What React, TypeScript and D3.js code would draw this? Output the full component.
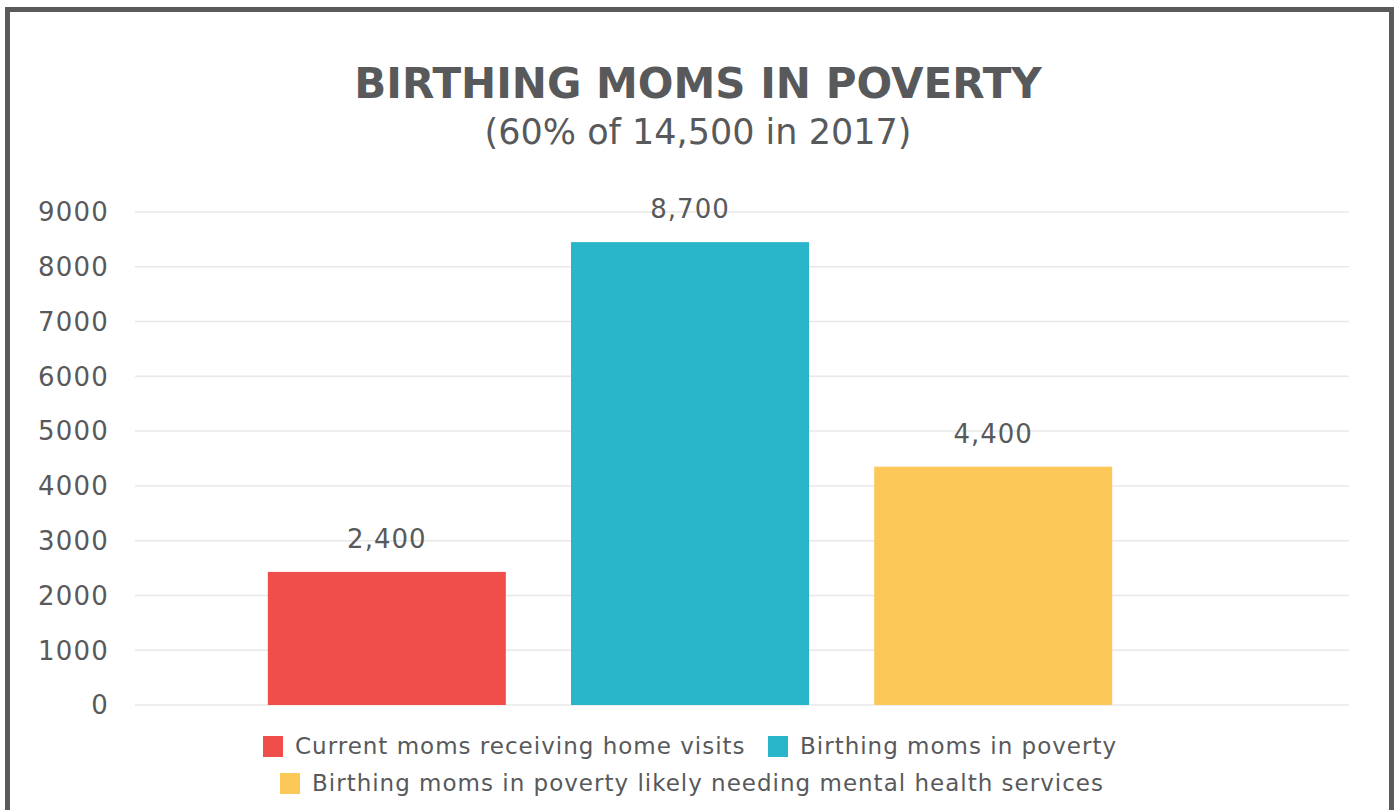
import * as d3 from "d3";
import { useEffect, useRef } from "react";

const categories = [
  "Current moms receiving home visits",
  "Birthing moms in poverty",
  "Birthing moms in poverty likely needing mental health services",
];
const values = [2430, 8450, 4350];
const valueLabels = ["2,400", "8,700", "4,400"];
const colors = ["#ef4e4b", "#29b5ca", "#fcc858"];
const yTicks = [0, 1000, 2000, 3000, 4000, 5000, 6000, 7000, 8000, 9000];

const FONT = "'DejaVu Sans', 'Open Sans', sans-serif";
const TEXT = "#58595b";

const App = () => {
  const ref = useRef<SVGSVGElement>(null);
  const width = 1395;
  const height = 810;

  useEffect(() => {
    const svg = d3.select(ref.current);
    svg.selectAll("*").remove();

    // frame
    svg
      .append("rect")
      .attr("x", 7.5)
      .attr("y", 9.5)
      .attr("width", 1384)
      .attr("height", 820)
      .attr("fill", "#fff")
      .attr("stroke", "#5a5a5a")
      .attr("stroke-width", 5);

    // titles
    svg
      .append("text")
      .attr("x", 698)
      .attr("y", 98)
      .attr("text-anchor", "middle")
      .style("font-family", FONT)
      .style("font-weight", 700)
      .style("font-size", "42px")
      .style("fill", TEXT)
      .text("BIRTHING MOMS IN POVERTY");
    svg
      .append("text")
      .attr("x", 698)
      .attr("y", 144)
      .attr("text-anchor", "middle")
      .style("font-family", FONT)
      .style("font-size", "35px")
      .style("fill", TEXT)
      .text("(60% of 14,500 in 2017)");

    const y = d3.scaleLinear().domain([0, 9000]).range([705, 212]);
    const x = d3
      .scaleBand()
      .domain(categories)
      .range([236, 1144])
      .paddingInner(0.215)
      .paddingOuter(0.105);

    // grid
    svg
      .append("g")
      .selectAll("line")
      .data(yTicks)
      .enter()
      .append("line")
      .attr("x1", 135)
      .attr("x2", 1349)
      .attr("y1", (d) => y(d))
      .attr("y2", (d) => y(d))
      .attr("stroke", "#e8e8e8")
      .attr("stroke-width", 1.5);

    // y tick labels
    svg
      .append("g")
      .selectAll("text")
      .data(yTicks)
      .enter()
      .append("text")
      .attr("x", 109)
      .attr("y", (d) => y(d))
      .attr("dy", "0.36em")
      .attr("text-anchor", "end")
      .style("font-family", FONT)
      .style("font-size", "26px")
      .style("letter-spacing", "1.2px")
      .style("fill", TEXT)
      .text((d) => String(d));

    // bars
    svg
      .append("g")
      .selectAll("rect")
      .data(values)
      .enter()
      .append("rect")
      .attr("x", (_, i) => x(categories[i]) as number)
      .attr("width", x.bandwidth())
      .attr("y", (d) => y(d))
      .attr("height", (d) => y(0) - y(d))
      .attr("fill", (_, i) => colors[i]);

    // value labels
    svg
      .append("g")
      .selectAll("text")
      .data(values)
      .enter()
      .append("text")
      .attr("x", (_, i) => (x(categories[i]) as number) + x.bandwidth() / 2)
      .attr("y", (d) => y(d) - 24)
      .attr("text-anchor", "middle")
      .style("font-family", FONT)
      .style("font-size", "26px")
      .style("letter-spacing", "1px")
      .style("fill", TEXT)
      .text((_, i) => valueLabels[i]);

    // legend
    const legendRows = [
      [
        { i: 0, x: 263 },
        { i: 1, x: 768 },
      ],
      [{ i: 2, x: 280 }],
    ];
    const rowY = [746, 783];
    legendRows.forEach((row, r) => {
      row.forEach(({ i, x: lx }) => {
        const g = svg.append("g");
        g.append("rect")
          .attr("x", lx)
          .attr("y", rowY[r] - 10)
          .attr("width", 20)
          .attr("height", 21)
          .attr("fill", colors[i]);
        g.append("text")
          .attr("x", lx + 32)
          .attr("y", rowY[r])
          .attr("dy", "0.35em")
          .style("font-family", FONT)
          .style("font-size", "23px")
          .style("letter-spacing", "1px")
          .style("fill", TEXT)
          .text(categories[i]);
      });
    });
  }, []);

  return (
    <svg
      ref={ref}
      width={width}
      height={height}
      style={{ position: "absolute", left: 0, top: 0, background: "#fff" }}
    />
  );
};

export default App;
